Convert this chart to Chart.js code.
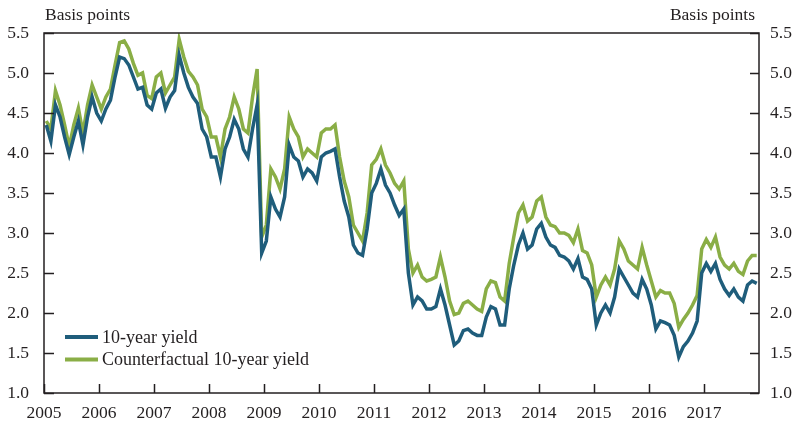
<!DOCTYPE html>
<html>
<head>
<meta charset="utf-8">
<script src="https://cdn.jsdelivr.net/npm/chart.js@4/dist/chart.umd.min.js"></script>
<style>
  html, body { margin: 0; padding: 0; background: #fff; }
  #wrap { width: 798px; height: 423px; position: relative; }
</style>
</head>
<body>
<div id="wrap"><canvas id="yields"></canvas></div>
<script>
// monthly values, Jan 2005 - Dec 2017
const startYear = 2005
const years = [2005, 2006, 2007, 2008, 2009, 2010, 2011, 2012, 2013, 2014, 2015, 2016, 2017]
const yTicks = [1.0, 1.5, 2.0, 2.5, 3.0, 3.5, 4.0, 4.5, 5.0, 5.5]

const yield10 = [
  4.35, 4.15, 4.60, 4.45, 4.20, 3.98, 4.20, 4.40, 4.10, 4.45, 4.70, 4.50,
  4.40, 4.55, 4.66, 4.95, 5.20, 5.18, 5.10, 4.95, 4.80, 4.82, 4.60, 4.55,
  4.75, 4.80, 4.56, 4.70, 4.78, 5.22, 5.00, 4.82, 4.70, 4.62, 4.30, 4.20,
  3.95, 3.95, 3.70, 4.05, 4.20, 4.42, 4.30, 4.05, 3.95, 4.30, 4.60, 2.75,
  2.90, 3.45, 3.30, 3.20, 3.45, 4.10, 3.95, 3.90, 3.70, 3.80, 3.75, 3.65,
  3.95, 4.00, 4.02, 4.05, 3.70, 3.40, 3.20, 2.85, 2.75, 2.72, 3.05, 3.50,
  3.62, 3.80, 3.60, 3.50, 3.35, 3.22, 3.30, 2.50, 2.10, 2.20, 2.15, 2.05,
  2.05, 2.08, 2.30, 2.10, 1.85, 1.60, 1.65, 1.78, 1.80, 1.75, 1.72, 1.72,
  1.95, 2.08, 2.05, 1.85, 1.85, 2.30, 2.60, 2.85, 3.00, 2.80, 2.85, 3.05,
  3.12, 2.95, 2.85, 2.82, 2.72, 2.70, 2.65, 2.55, 2.68, 2.45, 2.42, 2.30,
  1.85, 2.00, 2.10, 2.00, 2.20, 2.55, 2.45, 2.35, 2.25, 2.20, 2.42, 2.30,
  2.10, 1.80, 1.90, 1.88, 1.85, 1.72, 1.45, 1.58, 1.65, 1.75, 1.90, 2.50,
  2.62, 2.52, 2.62, 2.42, 2.30, 2.22, 2.30, 2.20, 2.15, 2.35, 2.40, 2.37
]

const counterfactual = [
  4.40, 4.30, 4.78, 4.60, 4.35, 4.08, 4.35, 4.56, 4.25, 4.60, 4.85, 4.70,
  4.55, 4.70, 4.80, 5.10, 5.38, 5.40, 5.30, 5.12, 4.97, 5.00, 4.72, 4.68,
  4.95, 5.00, 4.75, 4.85, 4.95, 5.42, 5.20, 5.02, 4.95, 4.85, 4.55, 4.45,
  4.20, 4.20, 3.95, 4.30, 4.45, 4.70, 4.55, 4.30, 4.25, 4.70, 5.05, 2.95,
  3.10, 3.80, 3.70, 3.55, 3.80, 4.45, 4.30, 4.20, 3.95, 4.05, 4.00, 3.95,
  4.25, 4.30, 4.30, 4.35, 3.95, 3.65, 3.45, 3.10, 3.00, 2.90, 3.25, 3.85,
  3.92, 4.05, 3.85, 3.75, 3.62, 3.55, 3.65, 2.80, 2.50, 2.60, 2.45, 2.40,
  2.42, 2.45, 2.70, 2.45, 2.15, 1.98, 2.00, 2.12, 2.15, 2.10, 2.05, 2.02,
  2.30, 2.40, 2.38, 2.20, 2.15, 2.62, 2.95, 3.25, 3.35, 3.15, 3.20, 3.40,
  3.45, 3.20, 3.10, 3.08, 3.00, 3.00, 2.97, 2.88, 3.05, 2.78, 2.75, 2.60,
  2.20, 2.35, 2.45, 2.35, 2.55, 2.90, 2.80, 2.65, 2.60, 2.55, 2.82, 2.60,
  2.40, 2.20, 2.28, 2.25, 2.25, 2.12, 1.82, 1.92, 2.00, 2.10, 2.22, 2.80,
  2.92, 2.82, 2.95, 2.70, 2.60, 2.55, 2.62, 2.52, 2.48, 2.65, 2.72, 2.72
]

const blue = '#1f5d7b'
const green = '#8aae46'
const ink = '#231f20'
const font = '"Liberation Serif", "DejaVu Serif", serif'

function points(values) {
  return values.map((v, i) => ({ x: startYear + (i + 0.5) / 12, y: v }))
}

// box, inside ticks, unit labels and legend
const decor = {
  id: 'decor',
  afterDraw(chart) {
    const c = chart.ctx
    const a = chart.chartArea
    const xs = chart.scales.x
    const yl = chart.scales.y
    c.save()
    c.strokeStyle = ink
    c.lineWidth = 1.5
    c.strokeRect(a.left, a.top, a.right - a.left, a.bottom - a.top)
    c.beginPath()
    years.forEach(y => {
      const px = Math.round(xs.getPixelForValue(y)) + 0.5
      c.moveTo(px, a.bottom)
      c.lineTo(px, a.bottom - 9)
    })
    yTicks.forEach(v => {
      const py = Math.round(yl.getPixelForValue(v)) + 0.5
      c.moveTo(a.left, py)
      c.lineTo(a.left + 10, py)
      c.moveTo(a.right, py)
      c.lineTo(a.right - 9, py)
    })
    c.stroke()

    c.fillStyle = ink
    c.font = '17.5px ' + font
    c.textBaseline = 'alphabetic'
    c.textAlign = 'left'
    c.fillText('Basis points', a.left + 1, 20)
    c.textAlign = 'right'
    c.fillText('Basis points', a.right - 4, 20)

    // legend
    c.textAlign = 'left'
    c.textBaseline = 'middle'
    c.font = '18px ' + font
    chart.data.datasets.forEach((ds, i) => {
      const ly = 337 + i * 22.5
      c.strokeStyle = ds.borderColor
      c.lineWidth = 4
      c.beginPath()
      c.moveTo(65, ly)
      c.lineTo(98, ly)
      c.stroke()
      c.fillStyle = ink
      c.fillText(ds.label, 102, ly + 1)
    })
    c.restore()
  }
}

new Chart(document.getElementById('yields').getContext('2d'), {
  type: 'line',
  data: {
    datasets: [
      {
        label: '10-year yield',
        data: points(yield10),
        borderColor: blue,
        borderWidth: 3.5,
        pointRadius: 0,
        tension: 0
      },
      {
        label: 'Counterfactual 10-year yield',
        data: points(counterfactual),
        borderColor: green,
        borderWidth: 3.5,
        pointRadius: 0,
        tension: 0
      }
    ]
  },
  options: {
    responsive: true,
    maintainAspectRatio: false,
    animation: false,
    layout: { padding: { top: 33, left: 0, right: 0, bottom: 0 } },
    plugins: { legend: { display: false }, tooltip: { enabled: false } },
    scales: {
      x: {
        type: 'linear',
        min: 2005,
        max: 2018,
        grid: { display: false, drawTicks: false },
        border: { display: false },
        afterFit: s => { s.height = 30 },
        afterBuildTicks: s => { s.ticks = years.map(v => ({ value: v })) },
        ticks: {
          color: ink,
          font: { family: font, size: 17.5 },
          padding: 10,
          maxRotation: 0,
          callback: v => String(v)
        }
      },
      y: {
        position: 'left',
        min: 1,
        max: 5.5,
        grid: { display: false, drawTicks: false },
        border: { display: false },
        afterFit: s => { s.width = 44 },
        afterBuildTicks: s => { s.ticks = yTicks.map(v => ({ value: v })) },
        ticks: {
          color: ink,
          font: { family: font, size: 17.5 },
          padding: 15,
          callback: v => v.toFixed(1)
        }
      },
      y2: {
        position: 'right',
        min: 1,
        max: 5.5,
        grid: { display: false, drawTicks: false },
        border: { display: false },
        afterFit: s => { s.width = 39 },
        afterBuildTicks: s => { s.ticks = yTicks.map(v => ({ value: v })) },
        ticks: {
          color: ink,
          font: { family: font, size: 17.5 },
          padding: 11,
          callback: v => v.toFixed(1)
        }
      }
    }
  },
  plugins: [decor]
});
</script>
</body>
</html>
